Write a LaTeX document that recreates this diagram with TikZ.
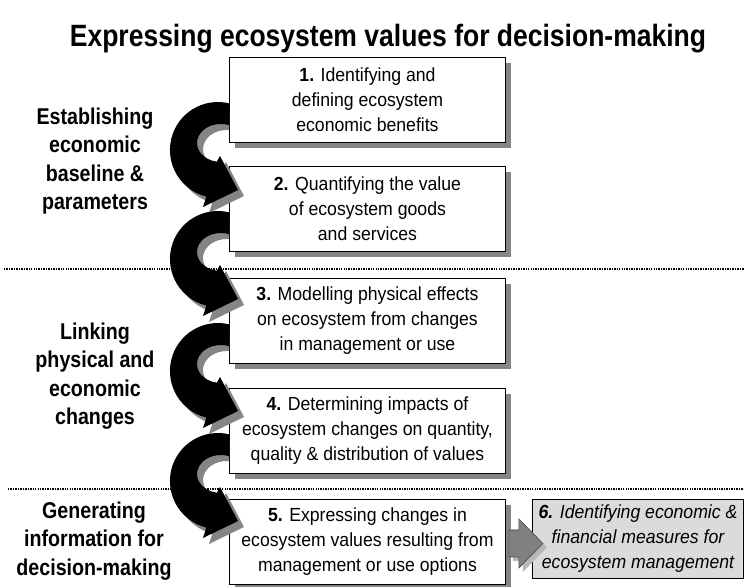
\documentclass[tikz,border=0pt]{standalone}
\usepackage{fontspec}
\setmainfont{Liberation Sans}
\newfontfamily\narrowsans[FakeStretch=0.86]{Liberation Sans}
\newfontfamily\boxsans[FakeStretch=0.93]{Liberation Sans}
\usetikzlibrary{shadows}

\newcommand{\stepfont}{\boxsans\fontsize{16.2}{21.3}\selectfont}
\newcommand{\phasefont}{\narrowsans\bfseries\fontsize{19.5}{24.2}\selectfont}
\newcommand{\headfont}{\narrowsans\bfseries\fontsize{26.3}{30}\selectfont}

% curved block arrow, drawn from the north west corner of a step box
\newcommand{\loopshape}[1]{%
  \fill[#1] (0,46.3) arc[start angle=-76.7, end angle=-256, radius=48]
    -- (-26,150) -- (9,133) -- (-9,99) -- (-12.2,104.7)
    arc[start angle=100, end angle=289.5, x radius=24, y radius=19] -- cycle;}

\begin{document}
\begin{tikzpicture}[x=0.03cm, y=-0.03cm,
    stepbox/.style={draw=black, fill=white, line width=0.8pt, inner sep=0pt,
      minimum width=8.28cm, minimum height=2.55cm, align=center, font=\stepfont,
      general shadow={fill=black!48, shadow xshift=0.18cm, shadow yshift=-0.18cm}},
    finalbox/.style={draw=black, fill=black!14, line width=0.9pt, inner sep=0pt,
      minimum width=6.33cm, minimum height=2.37cm, align=center,
      font=\stepfont\itshape},
    phase/.style={align=center, font=\phasefont},
    sepline/.style={line width=1.6pt, dash pattern=on 1.2pt off 0.9pt}]
    \useasboundingbox (0,0) rectangle (744,587);

    % Phase separators
    \draw[sepline] (4,269) -- (744,269);
    \draw[sepline] (8,489) -- (744,489);

    % Steps
    \node[stepbox, anchor=north west] (b1) at (229,57) {\textbf{1.} Identifying and\\defining ecosystem\\economic benefits};
    \node[stepbox, anchor=north west] (b2) at (229,166) {\textbf{2.} Quantifying the value\\of ecosystem goods\\and services};
    \node[stepbox, anchor=north west] (b3) at (229,278) {\textbf{3.} Modelling physical effects\\on ecosystem from changes\\in management or use};
    \node[stepbox, anchor=north west] (b4) at (229,388) {\textbf{4.} Determining impacts of\\ecosystem changes on quantity,\\quality \& distribution of values};
    \node[stepbox, anchor=north west] (b5) at (229,499) {\textbf{5.} Expressing changes in\\ecosystem values resulting from\\management or use options};
    \node[finalbox, anchor=north west] (b6) at (532,499) {\textbf{6.} Identifying economic \&\\financial measures for\\ecosystem management};

    % Curved arrows between the steps
    \foreach \n in {1,...,4} {
        \begin{scope}[shift={(b\n.north west)}]
            \begin{scope}
                \clip (-300,-100) -- (0,-100) -- (0,86) -- (300,86) -- (300,300) -- (-300,300) -- cycle;
                \loopshape{black!48, shift={(6,6)}}
            \end{scope}
            \loopshape{black}
        \end{scope}
    }

    % Block arrow from step 5 to step 6
    \begin{scope}[shift={(b5.east)}]
        \fill[black!28, shift={(4,4)}] (3,-12) -- (13,-12) -- (13,-23) -- (37,1.5) -- (13,26) -- (13,15) -- (3,15) -- cycle;
        \filldraw[fill=black!50, draw=black!70, line width=0.5pt] (3,-12) -- (13,-12) -- (13,-23) -- (37,1.5) -- (13,26) -- (13,15) -- (3,15) -- cycle;
    \end{scope}

    % Phases
    \node[phase] (p1) at (95,161) {Establishing\\economic\\baseline \&\\parameters};
    \node[phase] (p2) at (95,376) {Linking\\physical and\\economic\\changes};
    \node[phase] (p3) at (94,541) {Generating\\information for\\decision-making};

    % Title
    \node[font=\headfont, anchor=base] (title) at (388,47) {Expressing ecosystem values for decision-making};
\end{tikzpicture}
\end{document}
